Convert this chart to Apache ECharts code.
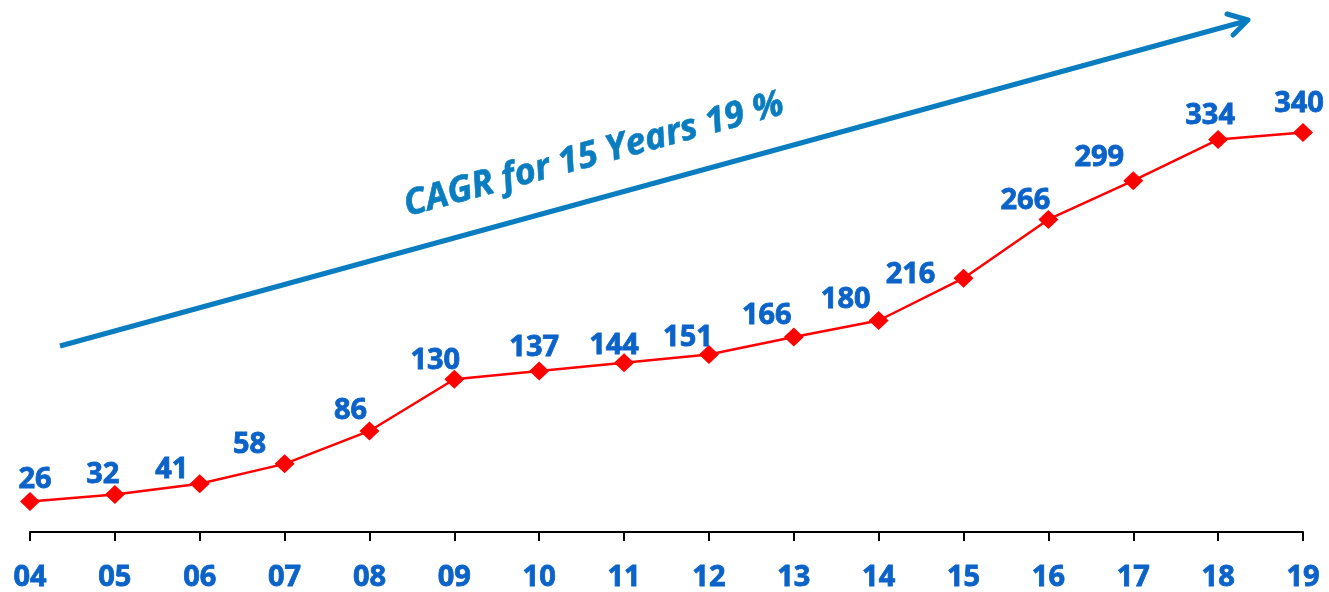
<!DOCTYPE html>
<html>
<head>
<meta charset="utf-8">
<script src="https://cdn.jsdelivr.net/npm/echarts@6/dist/echarts.min.js"></script>
<style>
  html, body { margin: 0; padding: 0; background: #fff; }
  #main { width: 1329px; height: 592px; }
</style>
</head>
<body>
<div id="main"></div>
<script>
// years on the x axis
var years = ['04','05','06','07','08','09','10','11','12','13','14','15','16','17','18','19'];
// values
var values = [26, 32, 41, 58, 86, 130, 137, 144, 151, 166, 180, 216, 266, 299, 334, 340];
var cagrText = 'CAGR for 15 Years 19 %';

var labelBlue = '#0b63c9';
var arrowBlue = '#0a7dc0';
var font = '"Open Sans", Lato, sans-serif';

// where each value label sits relative to its marker (px), like the original
var labelShift = [[5, -22], [-12, -20], [-28, -14], [-35, -19], [-19, -20], [-19, -19],
    [-5, -23], [-10, -17], [-21, -17], [-27, -21], [-33, -21], [-53, -3],
    [-23, -19], [-34, -23], [-8, -24], [-4, -29]];

var chart = echarts.init(document.getElementById('main'));

var option = {
    backgroundColor: '#fff',
    animation: false,
    grid: { left: 30, right: 26, top: 62, bottom: 60, outerBoundsMode: 'none', containLabel: false },
    xAxis: {
        type: 'category',
        data: years,
        boundaryGap: false,
        axisLine: { lineStyle: { color: '#000', width: 2 } },
        axisTick: { show: true, length: 9, lineStyle: { color: '#000', width: 2 } },
        axisLabel: {
            color: labelBlue, fontFamily: font, fontWeight: 'bold', fontSize: 29,
            textBorderColor: labelBlue, textBorderWidth: 0.8,
            margin: 31
        },
        splitLine: { show: false }
    },
    yAxis: {
        type: 'value',
        min: 0,
        max: 400,
        show: false
    },
    series: [{
        type: 'line',
        data: values.map(function (v, i) {
            return { value: v, label: { offset: labelShift[i] } };
        }),
        symbol: 'diamond',
        symbolSize: [20, 19],
        lineStyle: { color: '#ff0000', width: 2.5 },
        itemStyle: { color: '#ff0000' },
        label: {
            show: true,
            position: 'inside',
            color: labelBlue,
            fontFamily: font,
            fontWeight: 'bold',
            fontSize: 29,
            textBorderColor: labelBlue,
            textBorderWidth: 0.8
        }
    }],
    graphic: [
        {
            type: 'line',
            shape: { x1: 60, y1: 346, x2: 1246, y2: 21 },
            style: { stroke: arrowBlue, lineWidth: 5 }
        },
        {
            type: 'polyline',
            shape: { points: [[1227, 14], [1248, 20], [1233, 35]] },
            style: { stroke: arrowBlue, lineWidth: 5, fill: null, lineCap: 'round', lineJoin: 'round' }
        },
        {
            type: 'text',
            x: 594,
            y: 155,
            rotation: 15.2 * Math.PI / 180,
            style: {
                text: cagrText,
                fill: arrowBlue,
                stroke: arrowBlue,
                lineWidth: 0.6,
                font: 'italic bold 36px ' + font,
                align: 'center',
                verticalAlign: 'middle'
            }
        }
    ]
};

chart.setOption(option);
</script>
</body>
</html>
